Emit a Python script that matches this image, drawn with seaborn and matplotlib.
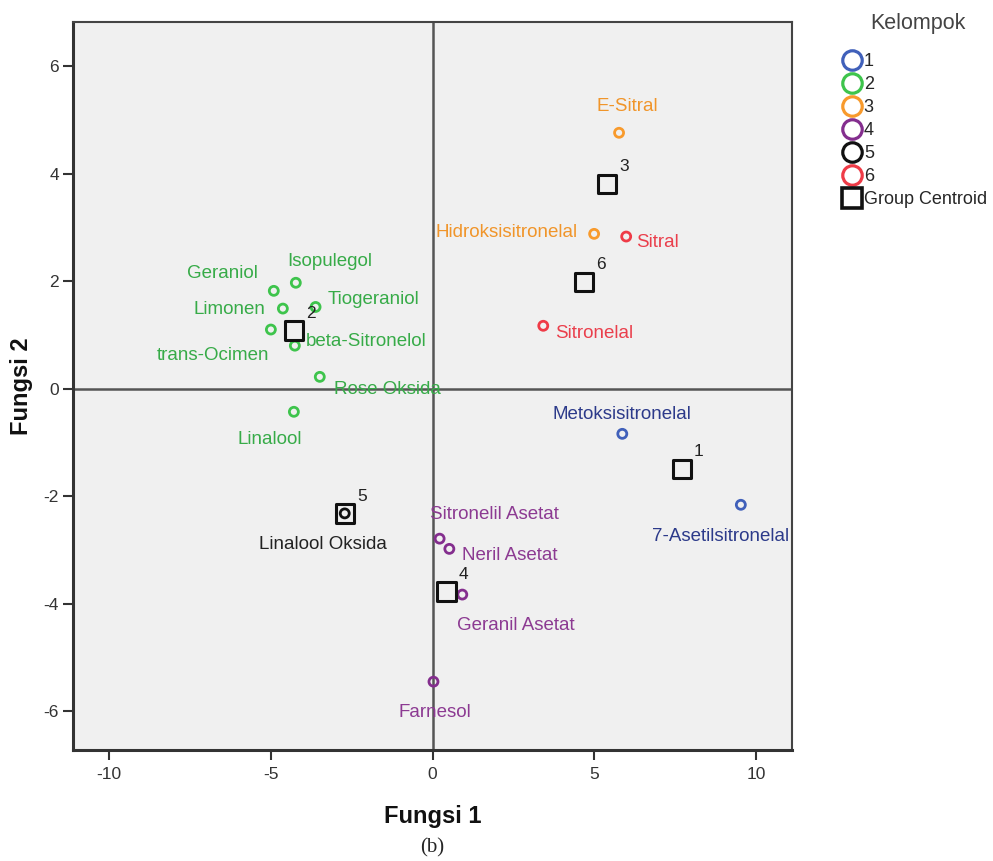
import numpy as np
import pandas as pd
import matplotlib
matplotlib.use('Agg')
import matplotlib.pyplot as plt
from matplotlib.lines import Line2D
import seaborn as sns

# compounds: name, group, function 1, function 2
names = ['Isopulegol', 'Geraniol', 'Limonen', 'Tiogeraniol', 'trans-Ocimen',
         'beta-Sitronelol', 'Rose Oksida', 'Linalool',
         'E-Sitral', 'Hidroksisitronelal',
         'Sitral', 'Sitronelal',
         'Metoksisitronelal', '7-Asetilsitronelal',
         'Sitronelil Asetat', 'Neril Asetat', 'Geranil Asetat', 'Farnesol',
         'Linalool Oksida']
groups = [2, 2, 2, 2, 2, 2, 2, 2,
          3, 3,
          6, 6,
          1, 1,
          4, 4, 4, 4,
          5]
fungsi1 = [-4.22, -4.90, -4.62, -3.61, -4.99, -4.25, -3.48, -4.28,
           5.76, 4.99,
           5.98, 3.42,
           5.86, 9.52,
           0.22, 0.52, 0.92, 0.03,
           -2.71]
fungsi2 = [1.97, 1.82, 1.49, 1.52, 1.10, 0.80, 0.22, -0.43,
           4.76, 2.88,
           2.83, 1.17,
           -0.84, -2.16,
           -2.79, -2.98, -3.83, -5.45,
           -2.32]

# group centroids
centroid_groups = [1, 2, 3, 4, 5, 6]
centroid_f1 = [7.70, -4.28, 5.39, 0.43, -2.71, 4.68]
centroid_f2 = [-1.49, 1.08, 3.81, -3.77, -2.32, 1.99]

# label offsets (pixels) and alignment for each compound label
label_pos = {
    'Isopulegol': (-9, 21, 'left'), 'Geraniol': (-16, 17, 'right'),
    'Limonen': (-17, -1, 'right'), 'Tiogeraniol': (12, 7, 'left'),
    'trans-Ocimen': (-2, -26, 'right'), 'beta-Sitronelol': (11, 4, 'left'),
    'Rose Oksida': (14, -13, 'left'), 'Linalool': (-24, -28, 'center'),
    'E-Sitral': (8, 26, 'center'), 'Hidroksisitronelal': (-16, 1, 'right'),
    'Sitral': (10, -6, 'left'), 'Sitronelal': (12, -8, 'left'),
    'Metoksisitronelal': (0, 19, 'center'), '7-Asetilsitronelal': (-20, -32, 'center'),
    'Sitronelil Asetat': (-10, 24, 'left'), 'Neril Asetat': (13, -7, 'left'),
    'Geranil Asetat': (-5, -31, 'left'), 'Farnesol': (1, -31, 'center'),
    'Linalool Oksida': (-22, -31, 'center'),
}

df = pd.DataFrame({'name': names, 'grp': groups, 'f1': fungsi1, 'f2': fungsi2})
cen = pd.DataFrame({'grp': centroid_groups, 'f1': centroid_f1, 'f2': centroid_f2})

marker_colors = {1: '#4060ba', 2: '#3ec44c', 3: '#f89a2c', 4: '#842e8e', 5: '#111111', 6: '#ef3b47'}
text_colors = {1: '#2c3a8a', 2: '#37ab48', 3: '#f0952a', 4: '#8c3a92', 5: '#222222', 6: '#ea3f4c'}

sns.set_style('white')
plt.rcParams['font.family'] = ['Liberation Sans', 'DejaVu Sans']
plt.rcParams['axes.unicode_minus'] = False

fig = plt.figure(figsize=(9.93, 8.61), dpi=100)
ax = fig.add_axes([0.0735, 0.129, 0.7241, 0.8454])
ax.set_facecolor('#f0f0f0')

# reference lines at zero
ax.axhline(0, color='#555555', lw=1.8, zorder=1)
ax.axvline(0, color='#555555', lw=1.8, zorder=1)

# points
sns.scatterplot(data=df, x='f1', y='f2', hue='grp', palette=marker_colors,
                s=42, marker='o', legend=False, ax=ax, zorder=3)
coll = ax.collections[-1]
fc = coll.get_facecolors()
coll.set_edgecolors(fc)
coll.set_facecolors('none')
coll.set_linewidths(2.0)

# centroids
sns.scatterplot(data=cen, x='f1', y='f2', marker='s', s=175, legend=False,
                ax=ax, zorder=4, color='none', edgecolor='#111111', linewidth=2.2)
coll2 = ax.collections[-1]
coll2.set_facecolors('none')
coll2.set_edgecolors('#111111')

for g, x, y in zip(cen['grp'], cen['f1'], cen['f2']):
    ax.annotate(str(int(g)), (x, y), xytext=(17, 17), textcoords='offset pixels',
                fontsize=12.5, color='#222222', ha='center', va='center')

for n, g, x, y in zip(df['name'], df['grp'], df['f1'], df['f2']):
    dx, dy, ha = label_pos[n]
    ax.annotate(n, (x, y), xytext=(dx, dy), textcoords='offset pixels',
                fontsize=13.5, ha=ha, va='center', color=text_colors[g], zorder=5)

ax.set_xlim(-11.1, 11.1)
ax.set_ylim(-6.72, 6.82)
ax.set_xticks([-10, -5, 0, 5, 10])
ax.set_yticks([-6, -4, -2, 0, 2, 4, 6])
ax.tick_params(axis='both', labelsize=12.5, length=7, width=1.5, color='#333333',
               labelcolor='#333333', direction='out', bottom=True, left=True)
ax.tick_params(axis='x', pad=5.5)
ax.tick_params(axis='y', pad=3)
for side in ['top', 'right']:
    ax.spines[side].set_color('#444444')
    ax.spines[side].set_linewidth(1.5)
for side in ['left', 'bottom']:
    ax.spines[side].set_color('#333333')
    ax.spines[side].set_linewidth(2.2)

ax.set_xlabel('Fungsi 1', fontsize=17, fontweight='bold', labelpad=16, color='#111111')
ax.set_ylabel('Fungsi 2', fontsize=17, fontweight='bold', labelpad=8, color='#111111')

# legend
handles = [Line2D([], [], ls='none', marker='o', ms=14, mfc='none', mew=2.3,
                  mec=marker_colors[g]) for g in [1, 2, 3, 4, 5, 6]]
handles.append(Line2D([], [], ls='none', marker='s', ms=15, mfc='none', mew=2.6, mec='#111111'))
labels = ['1', '2', '3', '4', '5', '6', 'Group Centroid']
leg = fig.legend(handles, labels, loc='upper left',
                 bbox_to_anchor=(0.849, 0.938), frameon=False, fontsize=13,
                 handlelength=1.0, handletextpad=0.15,
                 labelspacing=0.33, borderaxespad=0, borderpad=0)
fig.text(0.924, 0.973, 'Kelompok', fontsize=15.5, color='#444444', ha='center', va='center')

fig.text(0.435, 0.0151, '(b)', fontsize=15, family='Liberation Serif', ha='center', va='center')

fig.savefig('out.png', dpi=100)
